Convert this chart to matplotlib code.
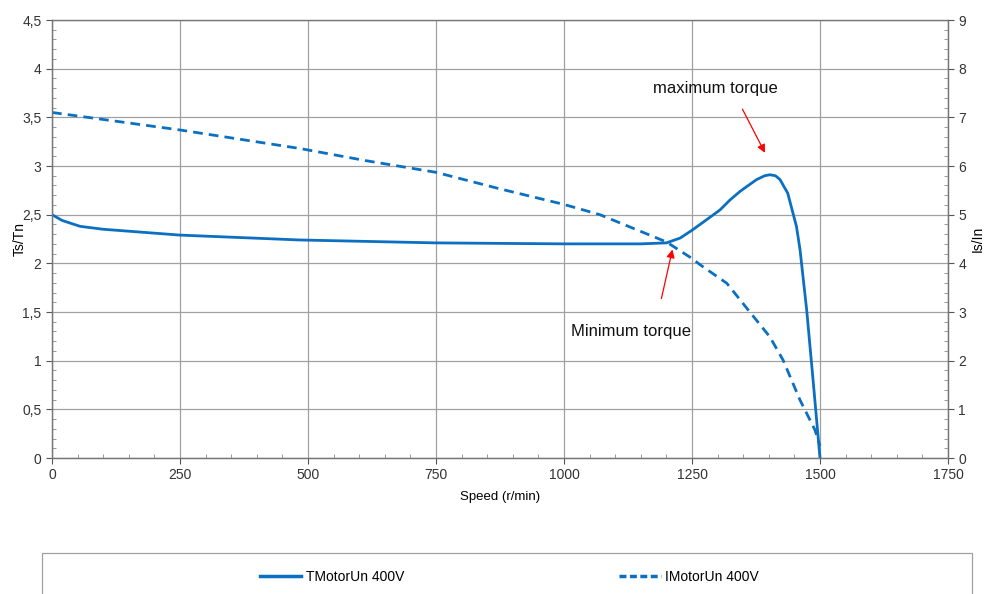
import matplotlib.pyplot as plt
from matplotlib.patches import Rectangle
from matplotlib.lines import Line2D
from matplotlib.ticker import MultipleLocator

plt.rcParams['font.family'] = ['Liberation Sans', 'DejaVu Sans']

# torque curve Ts/Tn (left axis)
speed_t = [0, 20, 55, 100, 250, 484, 750, 1000, 1150, 1200, 1227, 1250, 1279, 1305,
           1324, 1344, 1376, 1392, 1402, 1413, 1422, 1437, 1454, 1461, 1474, 1487, 1500]
torque = [2.5, 2.44, 2.38, 2.35, 2.29, 2.24, 2.21, 2.2, 2.2, 2.21, 2.26, 2.34, 2.45, 2.55,
          2.65, 2.74, 2.86, 2.9, 2.91, 2.9, 2.86, 2.72, 2.38, 2.14, 1.52, 0.77, 0.0]

# current curve Is/In (right axis)
speed_i = [0, 250, 484, 613, 750, 875, 1000, 1070, 1200, 1250, 1266, 1318, 1363,
           1402, 1428, 1461, 1490, 1500]
current = [7.1, 6.74, 6.36, 6.11, 5.87, 5.53, 5.21, 5.0, 4.44, 4.10, 3.97, 3.59, 3.0,
           2.49, 2.01, 1.19, 0.58, 0.25]

x_ticks = [0, 250, 500, 750, 1000, 1250, 1500, 1750]
left_ticks = [0, 0.5, 1, 1.5, 2, 2.5, 3, 3.5, 4, 4.5]
left_labels = ['0', '0,5', '1', '1,5', '2', '2,5', '3', '3,5', '4', '4,5']
right_ticks = [0, 1, 2, 3, 4, 5, 6, 7, 8, 9]

blue = '#0B70C2'
txt = '#333333'

fig = plt.figure(figsize=(9.89, 5.94), dpi=100)
ax = fig.add_axes([52 / 989, 136 / 594, 896 / 989, 438 / 594])
ax2 = ax.twinx()

ax.plot(speed_t, torque, color=blue, lw=2.0, solid_joinstyle='round')
ax2.plot(speed_i, current, color=blue, lw=2.0, ls=(0, (3.5, 2.2)))

ax.set_xlim(0, 1750)
ax.set_ylim(0, 4.5)
ax2.set_ylim(0, 9)
ax.set_xticks(x_ticks)
ax.set_yticks(left_ticks)
ax.set_yticklabels(left_labels)
ax2.set_yticks(right_ticks)
ax.xaxis.set_minor_locator(MultipleLocator(50))
ax.yaxis.set_minor_locator(MultipleLocator(0.1))
ax2.yaxis.set_minor_locator(MultipleLocator(0.2))

ax.grid(True, which='major', color='#a0a0a0', lw=0.9)
ax.set_axisbelow(True)
for a in (ax, ax2):
    a.tick_params(which='major', direction='out', length=4, colors='#555555',
                  labelcolor=txt, labelsize=10)
    a.tick_params(which='minor', direction='in', length=3, colors='#888888')
    for s in a.spines.values():
        s.set_color('#777777')
        s.set_linewidth(0.9)
ax.spines['top'].set_color('#a0a0a0')

ax.set_xlabel('Speed (r/min)', fontsize=9.5, color='black', labelpad=6)
ax.set_ylabel('Ts/Tn', fontsize=10, color='black', labelpad=-3)
ax2.set_ylabel('Is/In', fontsize=10, color='black', labelpad=3)

ax.annotate('', xy=(1395, 3.11), xytext=(1346, 3.61),
            arrowprops=dict(arrowstyle='-|>', color='red', lw=0.9,
                            mutation_scale=12))
ax.text(1295, 3.75, 'maximum torque', fontsize=12, color='#111111', ha='center')
ax.annotate('', xy=(1213, 2.17), xytext=(1189, 1.61),
            arrowprops=dict(arrowstyle='-|>', color='red', lw=0.9,
                            mutation_scale=12))
ax.text(1130, 1.25, 'Minimum torque', fontsize=12, color='#111111', ha='center')

# legend box at the bottom
fig.patches.append(Rectangle((42 / 989, -0.05), 930 / 989, 0.05 + 41 / 594,
                             transform=fig.transFigure, fill=False,
                             edgecolor='#a0a0a0', lw=0.9))
handles = [Line2D([], [], color=blue, lw=2.5),
           Line2D([], [], color=blue, lw=2.5, ls=(0, (2, 1)))]
fig.legend(handles, ['TMotorUn 400V', 'IMotorUn 400V'], loc='center',
           bbox_to_anchor=(0.515, 17 / 594), ncol=2, frameon=False,
           fontsize=10, handlelength=3.0, handletextpad=0.3, columnspacing=15.5)

fig.savefig('out.png', dpi=100)
